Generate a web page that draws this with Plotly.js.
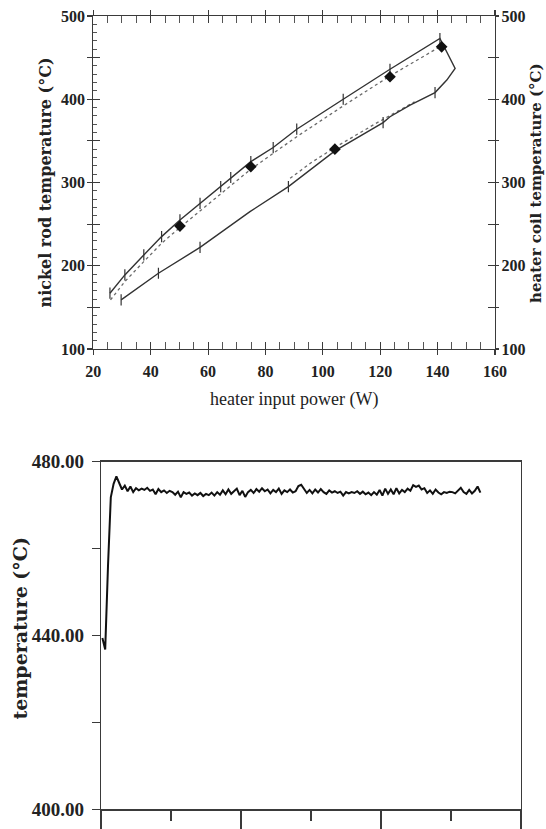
<!DOCTYPE html>
<html>
<head>
<meta charset="utf-8">
<script src="https://cdn.plot.ly/plotly-3.0.1.min.js"></script>
<style>
  html, body { margin: 0; padding: 0; background: #fff; }
  #chart { width: 546px; height: 829px; }
</style>
</head>
<body>
<div id="chart"></div>
<script>
// ---------- Top chart data (heater input power W vs temperature °C) ----------
const loopPower = [25.8, 31.0, 37.6, 43.8, 50.2, 57.2, 64.4, 67.9, 74.9, 82.7, 90.9, 107.1, 123.4, 140.8, 143.7, 146.1, 143.2, 139.1, 130.4, 123.4, 121.0, 104.2, 88.0, 74.6, 57.2, 42.7, 29.7];
const loopTemp  = [167, 189, 213, 235, 255, 275, 295, 306, 325, 342, 364, 400, 436, 473, 453, 437, 423, 408, 393, 379, 372, 338, 295, 265, 222, 191, 159];

const tickPower = [25.8, 31.0, 37.6, 43.8, 50.2, 57.2, 64.4, 67.9, 74.9, 82.7, 90.9, 107.1, 123.4, 140.8, 139.1, 121.0, 88.0, 57.2, 42.7, 29.7];
const tickTemp  = [167, 189, 213, 235, 255, 275, 295, 306, 325, 342, 364, 400, 436, 473, 408, 372, 295, 222, 191, 159];

const modelUpPower = [26.0, 31.0, 37.6, 43.8, 50.2, 57.2, 64.4, 74.9, 82.7, 90.9, 107.1, 123.4, 140.8];
const modelUpTemp  = [159, 181, 205, 227, 246, 266, 287, 316, 335, 355, 392, 428, 463];
const modelLowPower = [88.6, 96.0, 104.2, 118.0, 132.0];
const modelLowTemp  = [305, 324, 342, 370, 397];

const pointPower = [50.2, 74.9, 104.2, 123.4, 141.4];
const pointTemp  = [247.7, 319, 340, 427, 463];

const topXTicks = [20, 40, 60, 80, 100, 120, 140, 160];
const topYTicks = [100, 150, 200, 250, 300, 350, 400, 450, 500];
const topYLabels = ['100', '', '200', '', '300', '', '400', '', '500'];

// ---------- Bottom chart data (temperature trace over time) ----------
const timeStart = 0.2;
const timeStep = 0.4;
const traceTemp = [
  439.4, 436.8, 456.0, 471.8, 474.9, 476.6, 475.1, 473.6, 474.5, 473.2,
  474.3, 473.0, 473.9, 473.4, 473.8, 473.5, 474.0, 473.3, 473.6, 472.5,
  473.7, 473.0, 473.4, 472.8, 473.3, 473.0, 472.4, 473.1, 471.8, 473.0,
  472.6, 472.9, 472.2, 472.7, 472.3, 472.8, 472.1, 472.6, 472.3, 472.9,
  472.2, 473.0, 472.4, 473.4, 472.5, 473.6, 472.6, 473.2, 473.8, 472.3,
  473.3, 471.9, 473.0, 473.5, 472.8, 473.7, 473.1, 473.9, 473.2, 473.6,
  472.7, 473.5, 473.0, 473.8, 472.6, 473.4, 473.0, 473.6, 472.9, 473.2,
  474.4, 474.7, 473.6, 472.8, 473.5, 472.7, 473.6, 472.9, 473.7, 473.0,
  472.6, 473.4, 472.9, 473.2, 472.8, 473.1, 472.2, 473.0, 472.7, 473.0,
  472.8, 473.2, 472.6, 473.1, 472.5, 472.9, 472.3, 473.0, 472.4, 473.5,
  472.2, 473.8, 472.6, 473.6, 472.5, 473.9, 472.7, 473.5, 473.0, 473.8,
  473.3, 474.6, 474.2, 474.5, 473.6, 473.9, 472.8, 473.4, 472.6, 473.6,
  472.9, 472.5, 473.0, 472.8, 473.1, 473.0, 472.7, 473.4, 474.0, 473.0,
  472.6, 473.5, 472.7, 473.3, 474.3, 472.9
];
const botYTicks = [400, 420, 440, 460, 480];
const botYLabels = ['400.00', '', '440.00', '', '480.00'];
const botXTicks = [0, 20, 40, 60];

// ---------- helpers ----------
const W = 546, H = 829;
const px = v => v / W;
const py = v => 1 - v / H;
const axisColor = '#3a3a3a';
const tickFontTop = { family: 'Liberation Serif', size: 16, color: '#222', weight: 'bold' };
const empty = [null];

const traces = [
  { x: modelUpPower, y: modelUpTemp, xaxis: 'x', yaxis: 'y', mode: 'lines',
    line: { color: '#6a6a6a', width: 1.3, dash: 'dot' }, showlegend: false, hoverinfo: 'skip' },
  { x: modelLowPower, y: modelLowTemp, xaxis: 'x', yaxis: 'y', mode: 'lines',
    line: { color: '#6a6a6a', width: 1.3, dash: 'dot' }, showlegend: false, hoverinfo: 'skip' },
  { x: loopPower, y: loopTemp, xaxis: 'x', yaxis: 'y', mode: 'lines',
    line: { color: '#333', width: 1.4 }, showlegend: false },
  { x: tickPower, y: tickTemp, xaxis: 'x', yaxis: 'y', mode: 'markers',
    marker: { symbol: 'line-ns', size: 8, color: '#333', line: { color: '#333', width: 1.2 } },
    showlegend: false, hoverinfo: 'skip' },
  { x: pointPower, y: pointTemp, xaxis: 'x', yaxis: 'y', mode: 'markers',
    marker: { symbol: 'diamond', size: 9, color: '#111' }, showlegend: false },
  { y: traceTemp, x0: timeStart, dx: timeStep, xaxis: 'x2', yaxis: 'y5', mode: 'lines',
    line: { color: '#111', width: 2 }, showlegend: false },
  // empty traces so the overlaid tick-only axes are drawn
  { x: empty, y: empty, xaxis: 'x3', yaxis: 'y', mode: 'markers', showlegend: false, hoverinfo: 'skip' },
  { x: empty, y: empty, xaxis: 'x', yaxis: 'y2', mode: 'markers', showlegend: false, hoverinfo: 'skip' },
  { x: empty, y: empty, xaxis: 'x', yaxis: 'y3', mode: 'markers', showlegend: false, hoverinfo: 'skip' },
  { x: empty, y: empty, xaxis: 'x', yaxis: 'y4', mode: 'markers', showlegend: false, hoverinfo: 'skip' }
];

const topXDomain = [px(93.3), px(495)];
const topYDomain = [py(349), py(16)];
const botXDomain = [px(101), px(521)];
const botYDomain = [py(809.3), py(461.7)];

const layout = {
  width: W, height: H,
  margin: { l: 0, r: 0, t: 0, b: 0 },
  paper_bgcolor: '#fff', plot_bgcolor: 'rgba(0,0,0,0)',
  showlegend: false,
  xaxis: {
    domain: topXDomain, anchor: 'y', range: [20, 160], autorange: false,
    tickmode: 'array', tickvals: topXTicks, ticks: 'inside', ticklen: 7, tickwidth: 1.1, tickcolor: axisColor,
    minor: { tickmode: 'linear', tick0: 20, dtick: 5, ticks: 'inside', ticklen: 3.5, tickwidth: 1, tickcolor: '#555' },
    showline: true, linecolor: axisColor, linewidth: 1.2, mirror: 'allticks',
    showgrid: false, zeroline: false, tickfont: tickFontTop, ticklabelstandoff: 8
  },
  xaxis3: {
    overlaying: 'x', anchor: 'y', range: [20, 160], autorange: false,
    tickmode: 'array', tickvals: topXTicks, ticks: 'outside', ticklen: 5, tickwidth: 1.1, tickcolor: axisColor,
    mirror: 'ticks', showline: false, showticklabels: false, showgrid: false, zeroline: false
  },
  yaxis: {
    domain: topYDomain, anchor: 'x', range: [100, 500], autorange: false,
    tickmode: 'array', tickvals: topYTicks, ticktext: topYLabels,
    ticks: 'inside', ticklen: 7, tickwidth: 1.1, tickcolor: axisColor,
    minor: { tickmode: 'linear', tick0: 100, dtick: 10, ticks: 'inside', ticklen: 3.5, tickwidth: 1, tickcolor: '#555' },
    showline: true, linecolor: axisColor, linewidth: 1.2,
    showgrid: false, zeroline: false, tickfont: tickFontTop, ticklabelstandoff: 4
  },
  yaxis3: {
    overlaying: 'y', anchor: 'x', side: 'left', range: [100, 500], autorange: false,
    tickmode: 'array', tickvals: topYTicks, ticks: 'outside', ticklen: 5, tickwidth: 1.1, tickcolor: axisColor,
    showline: false, showticklabels: false, showgrid: false, zeroline: false
  },
  yaxis2: {
    overlaying: 'y', anchor: 'x', side: 'right', range: [100, 500], autorange: false,
    tickmode: 'array', tickvals: topYTicks, ticktext: topYLabels,
    ticks: 'inside', ticklen: 7, tickwidth: 1.1, tickcolor: axisColor,
    showline: true, linecolor: axisColor, linewidth: 1.2,
    showgrid: false, zeroline: false, tickfont: tickFontTop, ticklabelstandoff: 2
  },
  yaxis4: {
    overlaying: 'y', anchor: 'x', side: 'right', range: [100, 500], autorange: false,
    tickmode: 'array', tickvals: topYTicks, ticks: 'outside', ticklen: 3, tickwidth: 1.1, tickcolor: axisColor,
    showline: false, showticklabels: false, showgrid: false, zeroline: false
  },
  xaxis2: {
    domain: botXDomain, anchor: 'y5', range: [0, 60], autorange: false,
    tickmode: 'array', tickvals: botXTicks, ticks: 'outside', ticklen: 24, tickwidth: 1.2, tickcolor: axisColor,
    minor: { tickmode: 'linear', tick0: 0, dtick: 10, ticks: 'outside', ticklen: 10, tickwidth: 1.2, tickcolor: axisColor },
    showticklabels: false, showline: true, linecolor: axisColor, linewidth: 1.3, mirror: true,
    showgrid: false, zeroline: false
  },
  yaxis5: {
    domain: botYDomain, anchor: 'x2', range: [400, 480], autorange: false,
    tickmode: 'array', tickvals: botYTicks, ticktext: botYLabels,
    ticks: 'outside', ticklen: 8, tickwidth: 1.1, tickcolor: axisColor,
    showline: true, linecolor: axisColor, linewidth: 1.3, mirror: true,
    showgrid: false, zeroline: false,
    tickfont: { family: 'Liberation Serif', size: 19, color: '#222', weight: 'bold' }, ticklabelstandoff: 4
  },
  annotations: [
    { text: 'nickel rod temperature (°C)', xref: 'paper', yref: 'paper', x: px(45), y: py(182.5),
      textangle: -90, showarrow: false, xanchor: 'center', yanchor: 'middle',
      font: { family: 'DejaVu Serif', size: 16, color: '#222', weight: 'bold' } },
    { text: 'heater coil temperature (°C)', xref: 'paper', yref: 'paper', x: px(536), y: py(183),
      textangle: -90, showarrow: false, xanchor: 'center', yanchor: 'middle',
      font: { family: 'DejaVu Serif', size: 15, color: '#222', weight: 'bold' } },
    { text: 'heater input power (W)', xref: 'paper', yref: 'paper', x: px(294), y: py(400),
      showarrow: false, xanchor: 'center', yanchor: 'middle',
      font: { family: 'Liberation Serif', size: 18, color: '#222' } },
    { text: 'temperature (°C)', xref: 'paper', yref: 'paper', x: px(20), y: py(628.6),
      textangle: -90, showarrow: false, xanchor: 'center', yanchor: 'middle',
      font: { family: 'DejaVu Serif', size: 19, color: '#222', weight: 'bold' } }
  ]
};

Plotly.newPlot('chart', traces, layout, { displayModeBar: false, staticPlot: true });
</script>
</body>
</html>
